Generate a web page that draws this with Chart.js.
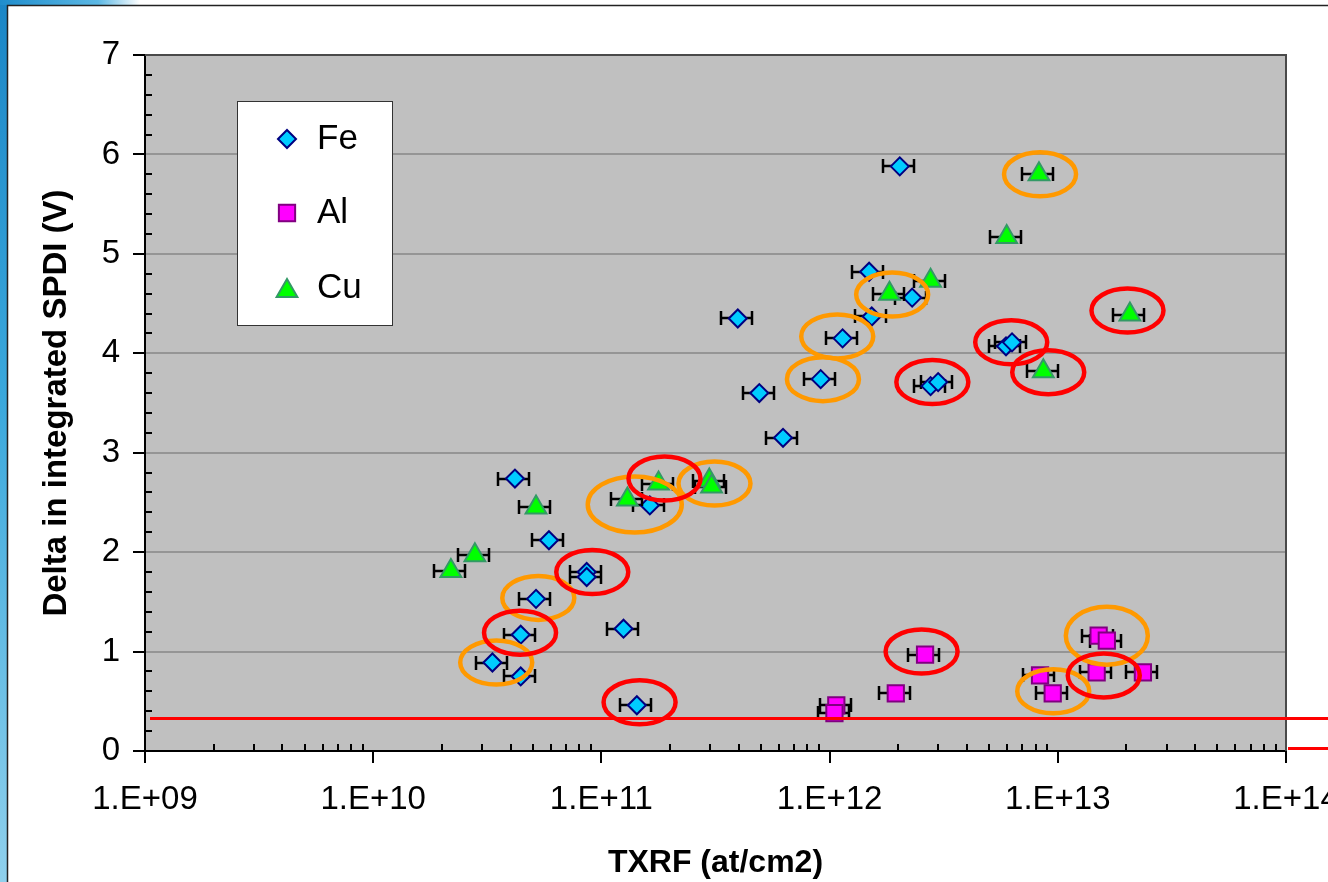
<!DOCTYPE html>
<html>
<head>
<meta charset="utf-8">
<title>SPDI vs TXRF</title>
<script src="https://cdn.jsdelivr.net/npm/chart.js@4.4.1/dist/chart.umd.min.js"></script>
<style>
  html, body { margin: 0; padding: 0; background: #fff; overflow: hidden; }
  canvas { display: block; }
</style>
</head>
<body>
<canvas id="graficoSpdi" width="1328" height="882"></canvas>
<script>
// eixo X (log) - ticks
const xTickValues = [1e9, 1e10, 1e11, 1e12, 1e13, 1e14];
const xTickLabels = ["1.E+09", "1.E+10", "1.E+11", "1.E+12", "1.E+13", "1.E+14"];

// Fe
const feX = [2.03e12, 1.49e12, 2.30e12, 1.53e12, 3.96e11, 1.14e12, 5.93e12, 6.30e12, 9.14e11, 2.77e12, 2.99e12, 4.92e11,
             6.25e11, 4.18e10, 1.63e11, 5.89e10, 8.62e10, 8.62e10, 5.17e10, 1.25e11, 4.43e10, 3.33e10, 4.43e10, 1.43e11];
const feY = [5.88, 4.82, 4.56, 4.37, 4.35, 4.15, 4.07, 4.11, 3.74, 3.67, 3.71, 3.60,
             3.15, 2.74, 2.47, 2.12, 1.80, 1.75, 1.53, 1.23, 1.17, 0.89, 0.75, 0.46];

// Al
const alX = [2.62e12, 1.95e12, 1.07e12, 1.05e12, 8.36e12, 9.50e12, 1.51e13, 1.64e13, 1.48e13, 2.36e13];
const alY = [0.97, 0.58, 0.46, 0.38, 0.76, 0.58, 1.16, 1.11, 0.79, 0.79];

// Cu
const cuX = [8.27e12, 5.97e12, 2.77e12, 1.83e12, 2.07e13, 8.64e12, 1.78e11, 2.97e11, 3.04e11, 1.30e11, 5.17e10, 2.79e10, 2.19e10];
const cuY = [5.80, 5.17, 4.73, 4.60, 4.39, 3.82, 2.69, 2.72, 2.66, 2.53, 2.45, 1.97, 1.81];

// erro relativo no TXRF (barras horizontais)
const xErro = 0.155;

// circulos de destaque (centro em unidades dos dados)
const anelLaranjaX = [8.36e12, 1.88e12, 1.08e12, 9.35e11, 3.13e11, 5.29e10, 3.46e10, 9.55e12];
const anelLaranjaY = [5.80, 4.59, 4.17, 3.74, 2.69, 1.54, 0.89, 0.60];
const anelLaranjaLargoX = [1.40e11, 1.64e13];
const anelLaranjaLargoY = [2.48, 1.16];
const anelVermelhoX = [2.02e13, 6.25e12, 9.08e12, 2.82e12, 1.89e11, 9.12e10, 4.40e10, 1.47e11, 2.53e12, 1.59e13];
const anelVermelhoY = [4.43, 4.11, 3.81, 3.71, 2.74, 1.80, 1.19, 0.49, 1.00, 0.76];

// linha de limite
const limiteY = 0.33;
const limiteForaY = 0.03;

const FONTE = '"Liberation Sans", Arial, sans-serif';
Chart.defaults.font.family = FONTE;
Chart.defaults.color = "#000";

function pontos(xs, ys) {
  return xs.map((x, i) => ({ x: x, y: ys[i] }));
}

// fundo do slide + area do grafico
const fundoPlugin = {
  id: "fundo",
  beforeDraw(chart) {
    const c = chart.ctx;
    const a = chart.chartArea;
    c.save();
    c.fillStyle = "#fff";
    c.fillRect(0, 0, chart.width, chart.height);
    // faixa azul a esquerda
    const g = c.createLinearGradient(0, 0, 0, chart.height);
    g.addColorStop(0, "#1b86c6");
    g.addColorStop(0.45, "#3aa8dc");
    g.addColorStop(1, "#8fd0ec");
    c.fillStyle = g;
    c.fillRect(0, 0, 7, chart.height);
    const g2 = c.createLinearGradient(0, 0, 140, 0);
    g2.addColorStop(0, "#1f8dcc");
    g2.addColorStop(0.7, "#5cb8e4");
    g2.addColorStop(1, "#ffffff");
    c.fillStyle = g2;
    c.fillRect(0, 0, 140, 5);
    c.strokeStyle = "#222";
    c.lineWidth = 1.5;
    c.beginPath();
    c.moveTo(7.5, chart.height);
    c.lineTo(7.5, 5.5);
    c.lineTo(chart.width, 5.5);
    c.stroke();
    // area do grafico
    c.fillStyle = "#c0c0c0";
    c.fillRect(a.left, a.top, a.right - a.left, a.bottom - a.top);
    c.restore();
  },
  beforeDatasetsDraw(chart) {
    const c = chart.ctx;
    const a = chart.chartArea;
    const xs = chart.scales.x;
    const ys = chart.scales.y;
    c.save();
    // borda superior e direita
    c.strokeStyle = "#4a4a4a";
    c.lineWidth = 2;
    c.beginPath();
    c.moveTo(a.left, a.top);
    c.lineTo(a.right, a.top);
    c.lineTo(a.right, a.bottom);
    c.stroke();
    // ticks menores
    c.strokeStyle = "#000";
    c.lineWidth = 2;
    c.beginPath();
    for (let d = 9; d < 14; d++) {
      for (let m = 2; m <= 9; m++) {
        const px = Math.round(xs.getPixelForValue(m * Math.pow(10, d)));
        c.moveTo(px, a.bottom);
        c.lineTo(px, a.bottom - 7);
      }
    }
    for (let v = 0.2; v < 7; v += 0.2) {
      if (Math.abs(v - Math.round(v)) < 0.01) continue;
      const py = Math.round(ys.getPixelForValue(v));
      c.moveTo(a.left, py);
      c.lineTo(a.left + 7, py);
    }
    c.stroke();
    c.restore();
  }
};

// barras de erro horizontais, desenhadas antes de cada serie
const errosPlugin = {
  id: "erros",
  beforeDatasetDraw(chart, args) {
    const c = chart.ctx;
    const xs = chart.scales.x;
    const ys = chart.scales.y;
    const dados = chart.data.datasets[args.index].data;
    c.save();
    c.strokeStyle = "#000";
    c.lineWidth = 2.5;
    c.beginPath();
    dados.forEach(p => {
      const x1 = Math.round(xs.getPixelForValue(p.x * (1 - xErro)));
      const x2 = Math.round(xs.getPixelForValue(p.x * (1 + xErro)));
      const py = Math.round(ys.getPixelForValue(p.y));
      c.moveTo(x1, py);
      c.lineTo(x2, py);
      c.moveTo(x1, py - 7);
      c.lineTo(x1, py + 7);
      c.moveTo(x2, py - 7);
      c.lineTo(x2, py + 7);
    });
    c.stroke();
    c.restore();
  }
};

// aneis de destaque, linha vermelha e legenda
const anotacoesPlugin = {
  id: "anotacoes",
  afterDatasetsDraw(chart) {
    const c = chart.ctx;
    const xs = chart.scales.x;
    const ys = chart.scales.y;
    function anel(x, y, rx, ry, cor) {
      c.strokeStyle = cor;
      c.lineWidth = 4.5;
      c.beginPath();
      c.ellipse(xs.getPixelForValue(x), ys.getPixelForValue(y), rx, ry, 0, 0, Math.PI * 2);
      c.stroke();
    }
    c.save();
    anelLaranjaX.forEach((x, i) => anel(x, anelLaranjaY[i], 36, 22, "#ff9900"));
    anel(anelLaranjaLargoX[0], anelLaranjaLargoY[0], 47, 28, "#ff9900");
    anel(anelLaranjaLargoX[1], anelLaranjaLargoY[1], 41, 29, "#ff9900");
    anelVermelhoX.forEach((x, i) => anel(x, anelVermelhoY[i], 36, 22, "#ff0000"));
    c.restore();
  },
  afterDraw(chart) {
    const c = chart.ctx;
    const a = chart.chartArea;
    const ys = chart.scales.y;
    c.save();
    c.strokeStyle = "#ff0000";
    c.lineWidth = 3;
    c.beginPath();
    const py = Math.round(ys.getPixelForValue(limiteY)) + 0.5;
    c.moveTo(a.left + 5, py);
    c.lineTo(chart.width, py);
    const py2 = Math.round(ys.getPixelForValue(limiteForaY)) + 0.5;
    c.moveTo(a.right + 2, py2);
    c.lineTo(chart.width, py2);
    c.stroke();

    // legenda
    const lx = a.left + 92, ly = a.top + 46;
    c.fillStyle = "#fff";
    c.fillRect(lx, ly, 156, 225);
    c.strokeStyle = "#333";
    c.lineWidth = 1;
    c.strokeRect(lx + 0.5, ly + 0.5, 155, 224);
    const linhas = [ly + 38, ly + 112, ly + 187];
    c.font = "35px " + FONTE;
    c.textBaseline = "middle";
    c.textAlign = "left";
    chart.data.datasets.forEach((ds, i) => {
      c.fillStyle = ds.backgroundColor;
      c.strokeStyle = ds.borderColor;
      c.lineWidth = ds.borderWidth;
      const dy = ds.pointStyle === "triangle" ? 3 : 0;
      Chart.helpers.drawPoint(c, { pointStyle: ds.pointStyle, radius: ds.pointRadius, rotation: 0, borderWidth: ds.borderWidth }, lx + 50, linhas[i] + dy);
      c.fillStyle = "#000";
      c.fillText(ds.label, lx + 80, linhas[i]);
    });
    c.restore();
  }
};

const ctx = document.getElementById("graficoSpdi").getContext("2d");
new Chart(ctx, {
  type: "scatter",
  data: {
    datasets: [
      {
        label: "Fe",
        data: pontos(feX, feY),
        pointStyle: "rectRot",
        pointRadius: 9,
        pointHoverRadius: 9,
        backgroundColor: "#00ccff",
        borderColor: "#000080",
        borderWidth: 2,
        order: 3
      },
      {
        label: "Al",
        data: pontos(alX, alY),
        pointStyle: "rect",
        pointRadius: 11.5,
        pointHoverRadius: 11.5,
        backgroundColor: "#ff00ff",
        borderColor: "#800080",
        borderWidth: 2,
        order: 2
      },
      {
        label: "Cu",
        data: pontos(cuX, cuY),
        pointStyle: "triangle",
        pointRadius: 12,
        pointHoverRadius: 12,
        backgroundColor: "#00ff00",
        borderColor: "#339966",
        borderWidth: 2,
        order: 1
      }
    ]
  },
  options: {
    responsive: false,
    animation: false,
    devicePixelRatio: 1,
    layout: { padding: { left: 0, right: 42, top: 55, bottom: 0 } },
    plugins: {
      legend: { display: false },
      tooltip: { enabled: false }
    },
    scales: {
      x: {
        type: "logarithmic",
        min: 1e9,
        max: 1e14,
        afterBuildTicks: s => { s.ticks = xTickValues.map(v => ({ value: v, major: true })); },
        afterFit: s => { s.height = 131; s.paddingLeft = 0; s.paddingRight = 0; },
        ticks: {
          callback: (v, i) => xTickLabels[i],
          font: { size: 33 },
          color: "#000",
          padding: 17,
          maxRotation: 0,
          autoSkip: false
        },
        grid: { drawOnChartArea: false, tickColor: "#000", tickLength: 12, tickWidth: 2, lineWidth: 2 },
        border: { color: "#000", width: 2 },
        title: {
          display: true,
          text: "TXRF (at/cm2)",
          font: { size: 32, weight: "bold" },
          color: "#000",
          padding: { top: 0, bottom: 0 }
        }
      },
      y: {
        min: 0,
        max: 7,
        afterFit: s => { s.width = 145; },
        ticks: { stepSize: 1, font: { size: 33 }, color: "#000", padding: 13 },
        grid: {
          color: c => (c.tick && c.tick.value > 0 && c.tick.value < 7) ? "#959595" : "rgba(0,0,0,0)",
          lineWidth: 2,
          tickColor: "#000",
          tickLength: 12,
          tickWidth: 2
        },
        border: { color: "#000", width: 2 },
        title: {
          display: true,
          text: "Delta in integrated SPDI (V)",
          font: { size: 33, weight: "bold" },
          color: "#000",
          padding: { top: 37, bottom: 0 }
        }
      }
    }
  },
  plugins: [fundoPlugin, errosPlugin, anotacoesPlugin]
});
</script>
</body>
</html>
